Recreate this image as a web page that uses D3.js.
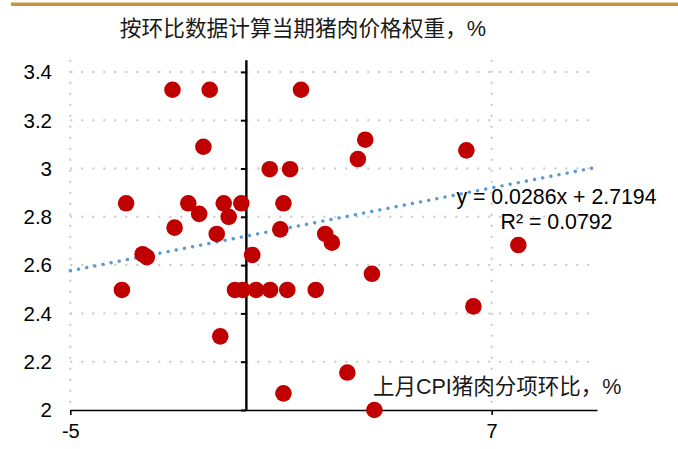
<!DOCTYPE html>
<html>
<head>
<meta charset="utf-8">
<script src="https://cdn.jsdelivr.net/npm/d3@7"></script>
<style>
  body { margin: 0; background: #fff; }
  svg { display: block; font-family: "Liberation Sans", Arial, "Noto Sans CJK SC", sans-serif; }
</style>
</head>
<body>
<svg id="chart" width="678" height="449"></svg>
<script>
// 上月CPI猪肉分项环比 (x) vs 当期猪肉价格权重 (y)
const pointsX = [-2.09, -1.03, 1.57, -1.21, 3.40, 3.19, 6.28, 0.68, 1.26, -3.41,
                 -1.64, -1.33, -0.63, -0.49, -0.13, 1.07, -2.03, -0.83, 0.98, 2.26,
                 2.45, -2.94, -2.82, 0.18, 7.76, 3.59, -3.53, -0.31, -0.09, 0.29,
                 0.69, 1.18, 1.99, 6.48, -0.73, 2.89, 1.07, 3.66];
const pointsY = [3.326, 3.326, 3.326, 3.09, 3.119, 3.039, 3.075, 2.997, 2.997, 2.856,
                 2.856, 2.812, 2.856, 2.80, 2.856, 2.856, 2.755, 2.729, 2.748, 2.729,
                 2.693, 2.645, 2.633, 2.642, 2.683, 2.564, 2.497, 2.497, 2.497, 2.497,
                 2.497, 2.497, 2.497, 2.429, 2.305, 2.155, 2.069, 2.0];
const xTicks = [-5, 7];
const yTicks = [2, 2.2, 2.4, 2.6, 2.8, 3, 3.2, 3.4];
const trendSlope = 0.0286;
const trendIntercept = 2.7194;
const equationLines = ["y = 0.0286x + 2.7194", "R² = 0.0792"];
const chartTitle = "按环比数据计算当期猪肉价格权重，%";
const xTitle = "上月CPI猪肉分项环比，%";

const svg = d3.select("#chart");

const x = d3.scaleLinear().domain([-5, 10]).range([70.3, 597]);
const y = d3.scaleLinear().domain([2, 3.45]).range([410, 59.8]);

// top rule
svg.append("rect")
    .attr("x", 11).attr("y", 2.5)
    .attr("width", 667).attr("height", 3.5)
    .attr("fill", "#c9943f");

// gridlines
const grid = svg.append("g")
    .attr("stroke", "#c8c8c8")
    .attr("stroke-width", 2)
    .attr("stroke-dasharray", "2 9");

grid.selectAll(".hgrid")
    .data(yTicks.filter(d => d > 2))
    .enter()
    .append("line")
    .attr("x1", x(-5)).attr("x2", x(10))
    .attr("y1", d => y(d)).attr("y2", d => y(d));

grid.selectAll(".vgrid")
    .data(xTicks)
    .enter()
    .append("line")
    .attr("x1", d => x(d)).attr("x2", d => x(d))
    .attr("y1", y(3.45)).attr("y2", y(2));

// x axis
const xAxis = svg.append("g")
    .attr("transform", `translate(0,${y(2)})`)
    .call(d3.axisBottom(x).tickValues(xTicks).tickSize(5).tickSizeOuter(0).tickPadding(9).tickFormat(d => String(d)));
xAxis.select(".domain").attr("stroke", "#000").attr("stroke-width", 1.6);
xAxis.selectAll(".tick line").attr("stroke", "#000").attr("stroke-width", 1.6);
xAxis.selectAll("text")
    .attr("font-size", 20)
    .attr("font-family", "Liberation Sans, Arial, sans-serif")
    .attr("fill", "#000");

// y axis drawn through x = 0
const yAxis = svg.append("g")
    .attr("transform", `translate(${x(0)},0)`)
    .call(d3.axisLeft(y).tickValues(yTicks).tickSize(5).tickSizeOuter(0).tickFormat(""));
yAxis.select(".domain").attr("stroke", "#000").attr("stroke-width", 2.4);
yAxis.selectAll(".tick line").attr("stroke", "#000").attr("stroke-width", 2);

// y labels at the low side
svg.append("g")
    .selectAll("text")
    .data(yTicks)
    .enter()
    .append("text")
    .attr("x", 52)
    .attr("y", d => y(d))
    .attr("dy", "0.36em")
    .attr("text-anchor", "end")
    .attr("font-size", 20.5)
    .attr("fill", "#000")
    .text(d => String(d));

// trendline
svg.append("line")
    .attr("x1", x(-5)).attr("y1", y(trendIntercept + trendSlope * -5))
    .attr("x2", x(10)).attr("y2", y(trendIntercept + trendSlope * 10))
    .attr("stroke", "#5b9bd5")
    .attr("stroke-width", 3.4)
    .attr("stroke-linecap", "round")
    .attr("stroke-dasharray", "0.1 8.2");

// points
svg.append("g")
    .selectAll("circle")
    .data(pointsX.map((d, i) => ({ x: d, y: pointsY[i] })))
    .enter()
    .append("circle")
    .attr("cx", d => x(d.x))
    .attr("cy", d => y(d.y))
    .attr("r", 8.3)
    .attr("fill", "#c00000");

// equation label
svg.append("g")
    .selectAll("text")
    .data(equationLines)
    .enter()
    .append("text")
    .attr("x", 556.5)
    .attr("y", (d, i) => 204 + i * 25)
    .attr("text-anchor", "middle")
    .attr("font-size", 21.3)
    .attr("fill", "#000")
    .text(d => d);

// titles
svg.append("text")
    .attr("x", 303)
    .attr("y", 36)
    .attr("text-anchor", "middle")
    .attr("font-size", 21.7)
    .attr("fill", "#1a1a1a")
    .text(chartTitle);

svg.append("text")
    .attr("x", 373)
    .attr("y", 394)
    .attr("font-size", 21.5)
    .attr("fill", "#1a1a1a")
    .text(xTitle);
</script>
</body>
</html>
